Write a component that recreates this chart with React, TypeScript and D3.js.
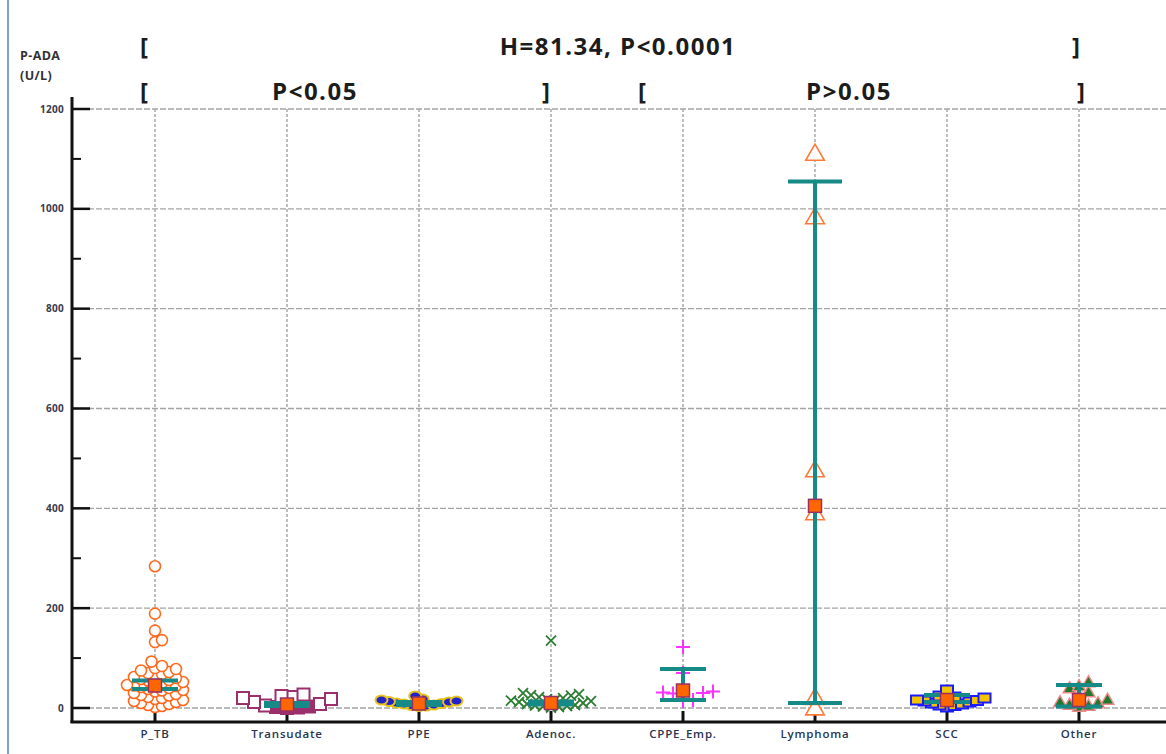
import React from "react";
import * as d3 from "d3";

const categories = ["P_TB", "Transudate", "PPE", "Adenoc.", "CPPE_Emp.", "Lymphoma", "SCC", "Other"];

const pTB = [284, 189, 155, 136, 132, 93, 84, 80, 78, 75, 72, 70, 68, 65, 62, 60, 58, 56, 55, 52, 50, 48, 46, 45, 44, 42, 40, 38, 36, 35, 33, 30, 28, 26, 25, 22, 20, 18, 16, 14, 12, 10, 8, 6, 4, 2];
const transudate = [27, 24, 22, 20, 18, 12, 8, 5, 3, 2, 1, 0];
const ppe = [24, 18, 16, 14, 13, 12, 10, 9, 8, 6, 5, 4, 3];
const adenoc = [135, 30, 28, 26, 25, 22, 20, 18, 16, 15, 14, 12, 10, 8, 6, 5, 4, 3, 2, 1];
const cppe = [122, 70, 33, 31, 30, 29, 16, 14];
const lymphoma = [1112, 985, 478, 392, 22, 1];
const scc = [36, 24, 22, 20, 18, 16, 15, 14, 12, 10, 8, 6, 5, 2];
const other = [50, 42, 38, 30, 22, 15, 10, 8, 5, 3, 1];

const groups = [pTB, transudate, ppe, adenoc, cppe, lymphoma, scc, other];
const medians = [45, 7, 9, 10, 35, 405, 16, 16];
const ciLow = [38, 4, 6, 7, 16, 10, 12, 3];
const ciHigh = [55, 10, 12, 13, 78, 1055, 26, 46];

const yTicks = [0, 200, 400, 600, 800, 1000, 1200];
const yMinor = [100, 300, 500, 700, 900, 1100];

const x = d3.scalePoint<string>().domain(categories).range([155, 1079]);
const y = d3.scaleLinear().domain([0, 1200]).range([708, 109]);

// simple dodge so markers spread sideways like the original dot plot
function swarm(values: number[], d: number) {
  const placed: { v: number; dx: number }[] = [];
  const sorted = [...values].sort((a, b) => a - b);
  sorted.forEach((v) => {
    const py = y(v);
    let best = 0;
    for (let k = 0; k < 60; k++) {
      const cand = k === 0 ? [0] : [k * d * 0.5, -k * d * 0.5];
      const ok = cand.find((c) =>
        placed.every((p) => Math.hypot(p.dx - c, y(p.v) - py) >= d)
      );
      if (ok !== undefined) {
        best = ok;
        break;
      }
    }
    placed.push({ v, dx: best });
  });
  return placed;
}

const tri = d3.symbol().type(d3.symbolTriangle);

function Marker({ gi, cx, cy, v }: { gi: number; cx: number; cy: number; v: number }) {
  switch (gi) {
    case 0:
      return <circle cx={cx} cy={cy} r={5.5} fill="#fff" stroke="#ff6a1f" strokeWidth={1.6} />;
    case 1:
      return (
        <rect x={cx - 6} y={cy - 6} width={12} height={12}
          fill={v <= 3 ? "#9b2f6c" : "#fff"} stroke="#9b2f6c" strokeWidth={2} />
      );
    case 2:
      return <ellipse cx={cx} cy={cy} rx={6} ry={4.5} fill="#2222cc" stroke="#e8c21c" strokeWidth={2} />;
    case 3:
      return (
        <path d={`M${cx - 5},${cy - 5}L${cx + 5},${cy + 5}M${cx - 5},${cy + 5}L${cx + 5},${cy - 5}`}
          stroke="#2e7d32" strokeWidth={1.8} />
      );
    case 4:
      return (
        <path d={`M${cx - 7},${cy}L${cx + 7},${cy}M${cx},${cy - 7}L${cx},${cy + 7}`}
          stroke="#ff33ff" strokeWidth={2} />
      );
    case 5:
      return (
        <path d={tri.size(150)()!} transform={`translate(${cx},${cy + 2})`}
          fill="#fff" stroke="#ff7a3a" strokeWidth={1.6} />
      );
    case 6:
      return (
        <rect x={cx - 6} y={cy - 4.5} width={12} height={9}
          fill="#f3c400" stroke="#1b1bff" strokeWidth={2} />
      );
    default:
      return (
        <path d={tri.size(70)()!} transform={`translate(${cx},${cy})`}
          fill="#1e7a2e" stroke="#f08a8a" strokeWidth={1.5} />
      );
  }
}

const swarmGap = [7, 11, 7.5, 8, 10, 6, 7.5, 9.5];

export default function App() {
  const font = "'Open Sans', 'Liberation Sans', sans-serif";
  return (
    <svg width={1166} height={754} style={{ position: "absolute", left: 0, top: 0, background: "#fff" }}>
      <line x1={8} x2={8} y1={0} y2={754} stroke="#7f9fd8" strokeWidth={2} />

      {/* grid */}
      {yTicks.map((t) => (
        <line key={"h" + t} x1={72} x2={1166} y1={y(t)} y2={y(t)}
          stroke="#a4a4a4" strokeWidth={1.3} strokeDasharray="6,2" />
      ))}
      {categories.map((c) => (
        <line key={"v" + c} x1={x(c)} x2={x(c)} y1={y(1200)} y2={y(0)}
          stroke="#a8a8a8" strokeWidth={1.5} strokeDasharray="3,2" />
      ))}

      {/* axes */}
      <line x1={72} x2={72} y1={97} y2={723} stroke="#111" strokeWidth={3} />
      <line x1={70.5} x2={1166} y1={722} y2={722} stroke="#111" strokeWidth={3} />
      {yTicks.map((t) => (
        <g key={"t" + t}>
          <line x1={72} x2={90} y1={y(t)} y2={y(t)} stroke="#111" strokeWidth={2.5} />
          <text x={64} y={y(t) + 3.5} textAnchor="end" fontSize={10} fontWeight="bold"
            fill="#3a3a4a" fontFamily={font} letterSpacing={0.3}>{t}</text>
        </g>
      ))}
      {yMinor.map((t) => (
        <line key={"m" + t} x1={72} x2={81} y1={y(t)} y2={y(t)} stroke="#111" strokeWidth={2} />
      ))}
      {categories.map((c) => (
        <g key={"x" + c}>
          <line x1={x(c)} x2={x(c)} y1={711} y2={722} stroke="#111" strokeWidth={3} />
          <text x={x(c)} y={738} textAnchor="middle" fontSize={11.5} fill="#2a3550"
            fontFamily={font} fontWeight="600" letterSpacing={0.8}>{c}</text>
        </g>
      ))}

      {/* points */}
      {groups.map((vals, gi) => {
        const cx0 = x(categories[gi])!;
        return (
          <g key={"g" + gi}>
            {swarm(vals, swarmGap[gi]).map((p, i) => (
              <Marker key={i} gi={gi} cx={cx0 + p.dx} cy={y(p.v)} v={p.v} />
            ))}
          </g>
        );
      })}

      {/* median + CI */}
      {categories.map((c, i) => {
        const cx = x(c)!;
        const w = i === 5 ? 27 : 23;
        return (
          <g key={"ci" + c}>
            <line x1={cx} x2={cx} y1={y(ciLow[i])} y2={y(ciHigh[i])} stroke="#168a86" strokeWidth={4} />
            <line x1={cx - w} x2={cx + w} y1={y(ciLow[i])} y2={y(ciLow[i])} stroke="#168a86" strokeWidth={4} />
            <line x1={cx - w} x2={cx + w} y1={y(ciHigh[i])} y2={y(ciHigh[i])} stroke="#168a86" strokeWidth={4} />
            <rect x={cx - 6.5} y={y(medians[i]) - 6.5} width={13} height={13}
              fill="#ff6600" stroke="#9a3060" strokeWidth={1.5} />
          </g>
        );
      })}

      {/* axis title */}
      <text x={20} y={60} fontSize={12.5} fontWeight="bold" fill="#333" fontFamily={font} letterSpacing={0.4}>P-ADA</text>
      <text x={20} y={80} fontSize={12.5} fontWeight="bold" fill="#333" fontFamily={font} letterSpacing={0.4}>(U/L)</text>

      {/* significance labels */}
      <g fontFamily={font} fontWeight="bold" fontSize={24} fill="#1c1c1c" letterSpacing={1.5}>
        <text x={140} y={55}>[</text>
        <text x={618} y={55} textAnchor="middle">H=81.34, P&lt;0.0001</text>
        <text x={1072} y={55}>]</text>
        <text x={140} y={100}>[</text>
        <text x={315} y={100} textAnchor="middle">P&lt;0.05</text>
        <text x={542} y={100}>]</text>
        <text x={638} y={100}>[</text>
        <text x={849} y={100} textAnchor="middle">P&gt;0.05</text>
        <text x={1077} y={100}>]</text>
      </g>
    </svg>
  );
}
